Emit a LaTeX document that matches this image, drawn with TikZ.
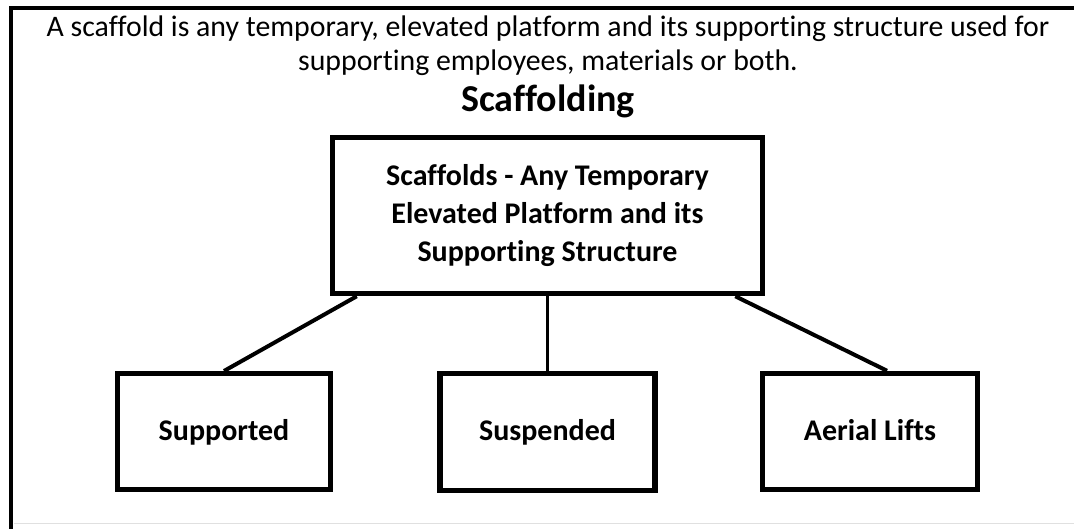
\documentclass[tikz,border=0pt]{standalone}
\usepackage{fontspec}
\setmainfont[Ligatures=NoCommon]{Carlito}
\usetikzlibrary{calc}
\begin{document}
\begin{tikzpicture}[x=1pt,y=-1pt,
  boxnode/.style={draw=black,line width=5.5pt,fill=white,align=center,inner sep=0pt,
    font=\fontsize{30}{38}\selectfont\bfseries},
  childnode/.style={boxnode,text height=22pt,text depth=5pt},
  conn/.style={draw=black,line width=4pt},
  framel/.style={draw=black,line width=4pt}]
\useasboundingbox (0,0) rectangle (1074,529);
% outer frame
\draw[framel] (11,529) -- (11,8) -- (1074,8);
\draw[black!12,line width=1pt] (14,523) -- (1074,523);
% intro text
\node[anchor=base,font=\fontsize{29.8}{34}\selectfont,inner sep=0pt] (intro1) at (548,37)
  {A scaffold is any temporary, elevated platform and its supporting structure used for};
\node[anchor=base,font=\fontsize{29.8}{34}\selectfont,inner sep=0pt] (intro2) at (548,71)
  {supporting employees, materials or both.};
\node[anchor=base,font=\fontsize{38}{44}\selectfont\bfseries,inner sep=0pt] (title) at (548,112)
  {Scaffolding};
% boxes
\node[boxnode,minimum width=430pt,minimum height=156pt] (main) at (547.5,215.5)
  {Scaffolds - Any Temporary\\Elevated Platform and its\\Supporting Structure};
\node[childnode,minimum width=213pt,minimum height=115.5pt] (sup) at (224,431.5) {Supported};
\node[childnode,minimum width=215pt,minimum height=117pt] (sus) at (547.5,432) {Suspended};
\node[childnode,minimum width=215pt,minimum height=116pt] (aer) at (870,431.5) {Aerial Lifts};
% connectors
\draw[conn] ($(main.south west)+(27,0)$) -- (sup.north);
\draw[conn,line width=3pt] (main.south) -- (sus.north);
\draw[conn] ($(main.south east)+(-30,0)$) -- ($(aer.north)+(17,0)$);
\end{tikzpicture}
\end{document}
